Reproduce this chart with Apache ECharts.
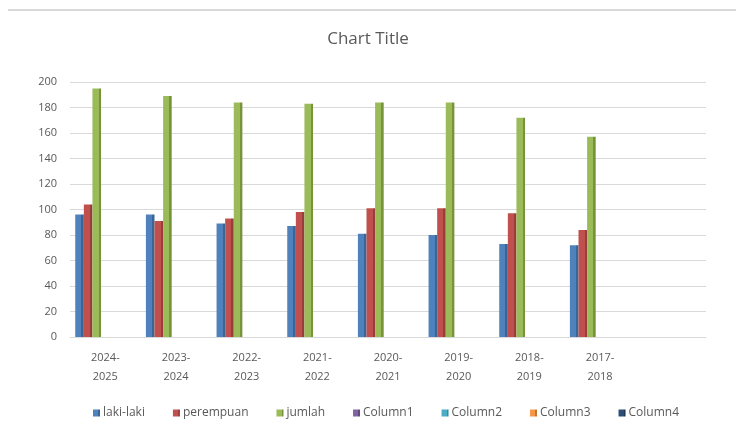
<!DOCTYPE html>
<html>
<head>
<meta charset="utf-8">
<script src="https://cdn.jsdelivr.net/npm/echarts@6/dist/echarts.min.js"></script>
<style>html,body{margin:0;padding:0;background:#fff;}#c{width:736px;height:432px;}</style>
</head>
<body>
<div id="c"></div>
<script>
const categories = ['2024-\n2025','2023-\n2024','2022-\n2023','2021-\n2022','2020-\n2021','2019-\n2020','2018-\n2019','2017-\n2018',''];
const lakiLaki = [96, 96, 89, 87, 81, 80, 73, 72];
const perempuan = [104, 91, 93, 98, 101, 101, 97, 84];
const jumlah = [195, 189, 184, 183, 184, 184, 172, 157];
const column1 = [];
const column2 = [];
const column3 = [];
const column4 = [];
const seriesNames = ['laki-laki','perempuan','jumlah','Column1','Column2','Column3','Column4'];
const seriesData = [lakiLaki, perempuan, jumlah, column1, column2, column3, column4];
const colors = ['#4F81BD','#C0504D','#9BBB59','#8064A2','#4BACC6','#F79646','#2C4D75'];
const darks  = ['#3A6596','#983D3A','#77933C','#624C7D','#3A8A9F','#C4762F','#1E3654'];

const chart = echarts.init(document.getElementById('c'), null, {renderer:'canvas'});
const font = '"Open Sans", "Noto Sans", sans-serif';
chart.setOption({
  animation: false,
  color: colors,
  title: {
    text: 'Chart Title', left: 'center', top: 26,
    textStyle: {fontFamily: font, fontSize: 17, fontWeight: 'normal', color: '#595959'}
  },
  graphic: [{type:'line', shape:{x1:8,y1:10,x2:736,y2:10}, style:{stroke:'#d9d9d9', lineWidth:2}}],
  legend: {
    bottom: 8, left: 88,
    itemWidth: 7, itemHeight: 7, itemGap: 28,
    icon: 'rect',
    textStyle: {fontFamily: font, fontSize: 12, color: '#595959', padding:[0,0,0,-2]},
    data: seriesNames
  },
  grid: {left: 70, right: 30, top: 82, bottom: 95},
  xAxis: {
    type: 'category', data: categories,
    axisLine: {show: true, lineStyle: {color: '#d9d9d9'}},
    axisTick: {show: false},
    axisLabel: {fontFamily: font, fontSize: 11, color: '#595959', lineHeight: 19, margin: 11, interval: 0}
  },
  yAxis: {
    type: 'value', min: 0, max: 200, interval: 20,
    axisLine: {show: false}, axisTick: {show: false},
    axisLabel: {fontFamily: font, fontSize: 11, color: '#595959', margin: 13},
    splitLine: {lineStyle: {color: '#d9d9d9', width: 1}}
  },
  series: seriesNames.map((n, i) => ({
    name: n, type: 'bar', data: seriesData[i],
    barWidth: 8.6, barGap: '0%',
    itemStyle: {
      color: new echarts.graphic.LinearGradient(0,0,1,0,[
        {offset:0, color:colors[i]},{offset:0.72, color:colors[i]},
        {offset:0.72, color:darks[i]},{offset:1, color:darks[i]}
      ])
    }
  }))
});
</script>
</body>
</html>
